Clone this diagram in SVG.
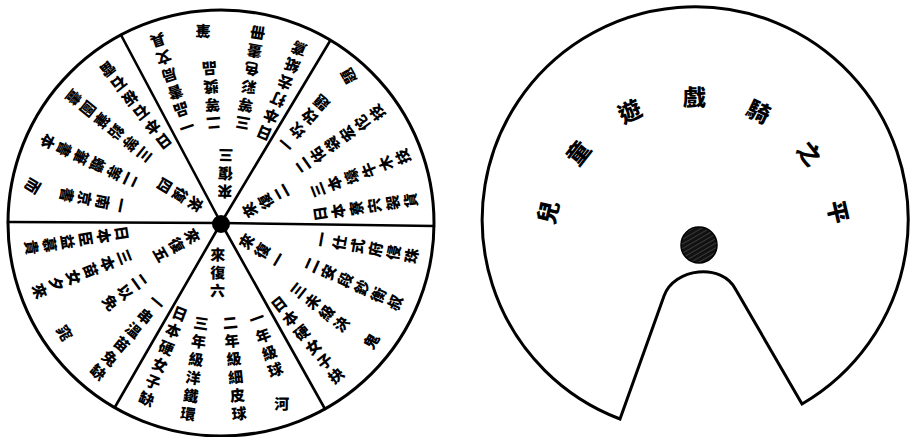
<svg xmlns="http://www.w3.org/2000/svg" width="924" height="437" viewBox="0 0 924 437">
<style>
.rim{fill:#fff;stroke:#000;stroke-width:3}
.div{stroke:#000;stroke-width:2.6;stroke-linecap:round}
.t{font-family:"Noto Sans CJK TC","Noto Sans CJK SC",sans-serif;font-weight:900;fill:#000}
.v{writing-mode:vertical-rl;font-size:15px;letter-spacing:3.3px}
.lab{font-size:15px;letter-spacing:3px}
.ti{font-size:23px;text-anchor:middle;dominant-baseline:central}
</style>
<defs>
<pattern id="hatch" width="4" height="4" patternUnits="userSpaceOnUse" patternTransform="rotate(60)">
<rect width="4" height="4" fill="#111"/>
<line x1="0" y1="0" x2="0" y2="4" stroke="#777" stroke-width="0.8"/>
</pattern>
</defs>
<rect width="924" height="437" fill="#fff"/>

<g id="wheel-left">
<circle class="rim" cx="221" cy="223" r="213"/>
</g>

<g id="dividers">
<line class="div" x1="221" y1="223" x2="434" y2="226"/>
<line class="div" x1="221" y1="223" x2="325" y2="409"/>
<line class="div" x1="221" y1="223" x2="115" y2="407"/>
<line class="div" x1="221" y1="223" x2="8" y2="222"/>
<line class="div" x1="221" y1="223" x2="121" y2="35"/>
<line class="div" x1="221" y1="223" x2="330" y2="41"/>
</g>

<g id="sector-1" transform="translate(221 223) rotate(-59.65)">
<text class="t v lab" x="-3" y="24">來復一</text>
<text class="t v" transform="translate(34 88) rotate(-20)">一仕式府侵珠</text>
<text class="t v" transform="translate(9 92) rotate(-6)">二安段鈔衡叔</text>
<text class="t v" transform="translate(-18 93) rotate(8)">三未級決</text>
<text class="t v" transform="translate(-38 84) rotate(21)">日本硬女子抉</text>
<text class="t v" x="-26" y="182">鬼</text>
</g>

<g id="sector-2" transform="translate(221 223) rotate(-119.5)">
<text class="t v lab" x="-3" y="24">來復二</text>
<text class="t v" transform="translate(34 88) rotate(-20)">一坎改題</text>
<text class="t v" transform="translate(9 92) rotate(-6)">二佑袋宏佗技</text>
<text class="t v" transform="translate(-18 93) rotate(8)">三本壕牛木技</text>
<text class="t v" transform="translate(-38 84) rotate(21)">日本寮宍袈貨</text>
<text class="t v" x="65" y="176">題</text>
</g>

<g id="sector-3" transform="translate(221 223) rotate(181.5)">
<text class="t v lab" x="-3" y="24">來復三</text>
<text class="t v" transform="translate(34 88) rotate(-20)">一品書局文具</text>
<text class="t v" transform="translate(9 92) rotate(-6)">二等獎品</text>
<text class="t v" transform="translate(-18 93) rotate(8)">三等彩色畫冊</text>
<text class="t v" transform="translate(-38 84) rotate(21)">日本打去紙鳶</text>
<text class="t v" x="23" y="184">筆</text>
</g>

<g id="sector-4" transform="translate(221 223) rotate(121)">
<text class="t v lab" x="-3" y="24">來復四</text>
<text class="t v" transform="translate(34 88) rotate(-20)">一南京書</text>
<text class="t v" transform="translate(9 92) rotate(-6)">二等蠟筆書本</text>
<text class="t v" transform="translate(-18 93) rotate(8)">三等鉛筆圖畫</text>
<text class="t v" transform="translate(-38 84) rotate(21)">日本石板石雷</text>
<text class="t v" x="65" y="173">而</text>
</g>

<g id="sector-5" transform="translate(221 223) rotate(60)">
<text class="t v lab" x="-3" y="24">來復五</text>
<text class="t v" transform="translate(34 88) rotate(-20)">一串溫苗兔缺</text>
<text class="t v" transform="translate(9 92) rotate(-6)">二以免</text>
<text class="t v" transform="translate(-18 93) rotate(8)">三本苗女夕來</text>
<text class="t v" transform="translate(-38 84) rotate(21)">日本臣益慕貴</text>
<text class="t v" x="17" y="183">窕</text>
</g>

<g id="sector-6" transform="translate(221 223) rotate(0.35)">
<text class="t v lab" x="-3" y="24">來復六</text>
<text class="t v" transform="translate(34 88) rotate(-20)">一年級球</text>
<text class="t v" transform="translate(9 92) rotate(-6)">二年級細皮球</text>
<text class="t v" transform="translate(-18 93) rotate(8)">三年級洋鐵環</text>
<text class="t v" transform="translate(-38 84) rotate(21)">日本硬女子缺</text>
<text class="t v" x="62" y="173">河</text>
</g>

<g id="hub-left">
<circle cx="221" cy="224" r="9" fill="#000"/>
</g>

<g id="wheel-right">
<path class="rim" d="M 620 419 L 664 296 C 674 268 722 262 736 290 L 802 404 A 213 213 0 1 0 620 419 Z"/>
<circle cx="699" cy="245" r="18" fill="url(#hatch)" stroke="#000" stroke-width="1.5"/>
</g>

<g id="title-right" class="t ti">
<text transform="translate(695 245) rotate(-77.5) translate(0 -152)">兒</text>
<text transform="translate(695 245) rotate(-51.75) translate(0 -150)">童</text>
<text transform="translate(695 245) rotate(-26) translate(0 -150)">遊</text>
<text transform="translate(695 245) rotate(-0.25) translate(0 -149)">戲</text>
<text transform="translate(695 245) rotate(25.5) translate(0 -149)">騎</text>
<text transform="translate(695 245) rotate(51.25) translate(0 -148)">之</text>
<text transform="translate(695 245) rotate(77) translate(0 -148)">平</text>
</g>
</svg>
